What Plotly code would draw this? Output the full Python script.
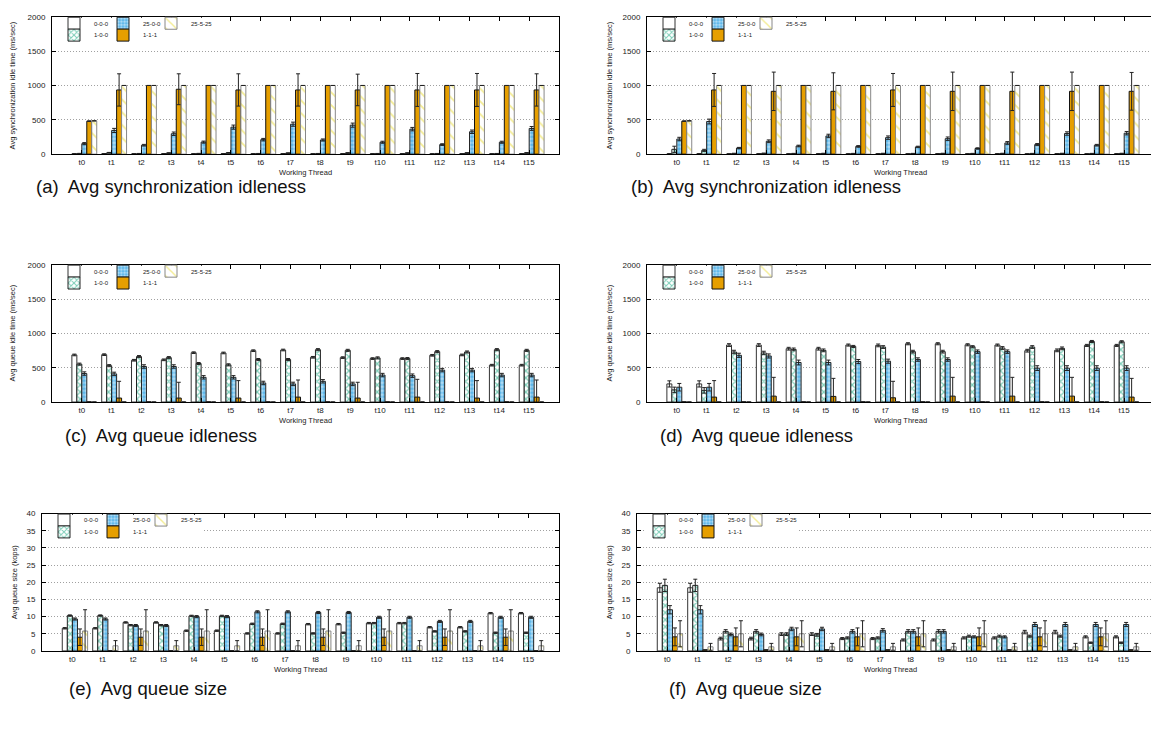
import plotly.graph_objects as go

W, H = 1151, 731

threads = ["t0", "t1", "t2", "t3", "t4", "t5", "t6", "t7",
           "t8", "t9", "t10", "t11", "t12", "t13", "t14", "t15"]
series_names = ["0-0-0", "1-0-0", "25-0-0", "1-1-1", "25-5-25"]

# ---------------- (a) Avg synchronization idle time (ms/sec) ----------------
a_000 = [4, 6, 3, 5, 3, 6, 4, 5, 3, 5, 4, 6, 3, 5, 3, 5]
a_000_err = [3] * 16
a_100 = [6, 20, 5, 15, 6, 18, 5, 14, 5, 16, 5, 15, 5, 16, 5, 17]
a_100_err = [5] * 16
a_2500 = [153, 345, 130, 297, 175, 393, 211, 436, 206, 422, 173, 364, 139, 326, 173, 374]
a_2500_err = [15, 30, 12, 25, 15, 30, 18, 30, 15, 30, 15, 25, 12, 25, 15, 28]
a_111 = [480, 935, 1000, 945, 1000, 935, 1000, 935, 1000, 935, 1000, 935, 1000, 935, 1000, 935]
a_111_err = [4, 235, 0, 225, 0, 235, 0, 235, 0, 230, 0, 240, 0, 240, 0, 235]
a_25525 = [485, 1000, 1000, 1000, 1000, 1000, 1000, 1000, 1000, 1000, 1000, 1000, 1000, 1000, 1000, 1000]
a_25525_err = [0] * 16

# ---------------- (b) Avg synchronization idle time (ms/sec) ----------------
b_000 = [3, 4, 2, 3, 2, 3, 2, 3, 2, 3, 2, 3, 2, 3, 2, 3]
b_000_err = [3] * 16
b_100 = [70, 55, 8, 10, 6, 8, 6, 8, 6, 8, 6, 8, 6, 8, 6, 8]
b_100_err = [45, 15, 5, 5, 5, 5, 5, 5, 5, 5, 5, 5, 5, 5, 5, 5]
b_2500 = [220, 475, 88, 187, 118, 265, 112, 240, 105, 225, 82, 163, 139, 300, 130, 305]
b_2500_err = [25, 35, 10, 20, 12, 25, 12, 25, 10, 25, 10, 20, 15, 25, 12, 25]
b_111 = [480, 935, 1000, 915, 1000, 915, 1000, 935, 1000, 915, 1000, 915, 1000, 915, 1000, 915]
b_111_err = [4, 240, 0, 280, 0, 270, 0, 240, 0, 280, 0, 280, 0, 280, 0, 275]
b_25525 = [485, 1000, 1000, 1000, 1000, 1000, 1000, 1000, 1000, 1000, 1000, 1000, 1000, 1000, 1000, 1000]
b_25525_err = [0] * 16

# ---------------- (c) Avg queue idle time (ms/sec) ----------------
c_000 = [686, 690, 609, 615, 719, 715, 748, 758, 652, 647, 633, 633, 681, 686, 537, 537]
c_000_err = [12] * 16
c_100 = [552, 530, 662, 647, 561, 542, 619, 619, 763, 753, 643, 633, 734, 729, 763, 753]
c_100_err = [15] * 16
c_2500 = [415, 410, 518, 518, 360, 360, 278, 264, 302, 264, 393, 384, 465, 465, 393, 393]
c_2500_err = [25] * 16
c_111 = [0, 58, 0, 58, 0, 58, 0, 72, 0, 58, 0, 72, 0, 58, 0, 72]
c_111_err = [0, 244, 0, 230, 0, 254, 0, 249, 0, 230, 0, 259, 0, 254, 0, 249]
c_25525 = [0] * 16
c_25525_err = [0] * 16

# ---------------- (d) Avg queue idle time (ms/sec) ----------------
d_000 = [264, 264, 830, 830, 777, 777, 830, 825, 849, 849, 834, 830, 748, 753, 825, 825]
d_000_err = [45, 45, 20, 20, 20, 20, 15, 20, 15, 15, 15, 15, 20, 20, 15, 15]
d_100 = [177, 170, 729, 715, 767, 753, 810, 801, 734, 734, 806, 787, 801, 782, 882, 878]
d_100_err = [40, 40, 25, 25, 20, 20, 15, 20, 20, 20, 15, 20, 20, 20, 15, 15]
d_2500 = [216, 216, 681, 671, 576, 576, 590, 595, 619, 619, 734, 734, 494, 494, 494, 494]
d_2500_err = [55, 55, 30, 30, 35, 35, 30, 30, 25, 25, 25, 25, 35, 35, 35, 35]
d_111 = [0, 72, 0, 86, 0, 82, 0, 62, 0, 86, 0, 86, 0, 86, 0, 72]
d_111_err = [0, 240, 0, 274, 0, 263, 0, 240, 0, 274, 0, 274, 0, 274, 0, 273]
d_25525 = [0] * 16
d_25525_err = [0] * 16

# ---------------- (e) Avg queue size (kops) ----------------
e_000 = [6.6, 6.6, 8.3, 8.3, 5.9, 5.9, 5.1, 5.1, 7.8, 7.8, 8.1, 8.1, 6.9, 6.9, 11.0, 11.0]
e_000_err = [0.2] * 16
e_100 = [10.3, 10.3, 7.5, 7.5, 10.2, 10.2, 7.9, 7.9, 5.1, 5.3, 8.1, 8.1, 5.7, 5.7, 5.3, 5.3]
e_100_err = [0.2] * 16
e_2500 = [9.3, 9.3, 7.4, 7.4, 10.0, 10.0, 11.4, 11.4, 11.2, 11.2, 9.8, 9.8, 8.6, 8.6, 9.8, 9.8]
e_2500_err = [0.3] * 16
e_111 = [4.0, 0, 4.0, 0, 4.0, 0, 4.0, 0, 4.0, 0, 4.0, 0, 4.0, 0, 4.0, 0]
e_111_err = [2.4, 0, 2.4, 0, 2.4, 0, 2.4, 0, 2.4, 0, 2.4, 0, 2.4, 0, 2.4, 0]
e_25525 = [5.8, 1.5, 5.8, 1.5, 5.8, 1.5, 5.8, 1.5, 5.8, 1.5, 5.8, 1.5, 5.8, 1.5, 5.8, 1.5]
e_25525_err = [6.2, 1.5, 6.2, 1.5, 6.2, 1.5, 6.2, 1.5, 6.2, 1.5, 6.2, 1.5, 6.2, 1.5, 6.2, 1.5]

# ---------------- (f) Avg queue size (kops) ----------------
f_000 = [18.4, 18.4, 3.6, 3.6, 4.9, 4.9, 3.6, 3.6, 3.2, 3.2, 3.8, 3.8, 5.5, 5.5, 4.1, 4.1]
f_000_err = [1.3, 1.3, 0.4, 0.4, 0.4, 0.4, 0.3, 0.3, 0.3, 0.3, 0.3, 0.3, 0.5, 0.5, 0.3, 0.3]
f_100 = [19.1, 19.1, 5.7, 5.7, 4.9, 4.7, 3.8, 3.8, 5.7, 5.7, 4.3, 4.3, 4.3, 4.3, 2.4, 2.4]
f_100_err = [1.8, 1.8, 0.5, 0.5, 0.4, 0.4, 0.3, 0.3, 0.5, 0.5, 0.3, 0.3, 0.3, 0.3, 0.2, 0.2]
f_2500 = [12.0, 12.0, 4.8, 4.8, 6.4, 6.4, 5.7, 6.0, 5.7, 5.7, 4.1, 4.1, 7.7, 7.7, 7.7, 7.7]
f_2500_err = [1.2, 1.2, 0.4, 0.4, 0.5, 0.5, 0.5, 0.5, 0.5, 0.5, 0.3, 0.3, 0.6, 0.6, 0.6, 0.6]
f_111 = [4.1, 0.3, 4.1, 0.3, 4.1, 0.3, 4.1, 0.3, 4.1, 0.3, 4.1, 0.3, 4.1, 0.3, 4.1, 0.3]
f_111_err = [2.6, 0, 2.6, 0, 2.6, 0, 2.6, 0, 2.6, 0, 2.6, 0, 2.6, 0, 2.6, 0]
f_25525 = [5.0, 1.2, 5.0, 1.2, 5.0, 1.2, 5.0, 1.2, 5.0, 1.2, 5.0, 1.2, 5.0, 1.2, 5.0, 1.2]
f_25525_err = [3.8, 1.0, 3.8, 1.0, 3.8, 1.0, 3.8, 1.0, 3.8, 1.0, 3.8, 1.0, 3.8, 1.0, 3.8, 1.0]

captions = ["(a)\u00a0 Avg synchronization idleness", "(b)\u00a0 Avg synchronization idleness",
            "(c)\u00a0 Avg queue idleness", "(d)\u00a0 Avg queue idleness",
            "(e)\u00a0 Avg queue size", "(f)\u00a0 Avg queue size"]
ytitles = ["Avg synchronization idle time (ms/sec)", "Avg synchronization idle time (ms/sec)",
           "Avg queue idle time (ms/sec)", "Avg queue idle time (ms/sec)",
           "Avg queue size (kops)", "Avg queue size (kops)"]
xtitle = "Working Thread"

panel_data = [
    [(a_000, a_000_err), (a_100, a_100_err), (a_2500, a_2500_err), (a_111, a_111_err), (a_25525, a_25525_err)],
    [(b_000, b_000_err), (b_100, b_100_err), (b_2500, b_2500_err), (b_111, b_111_err), (b_25525, b_25525_err)],
    [(c_000, c_000_err), (c_100, c_100_err), (c_2500, c_2500_err), (c_111, c_111_err), (c_25525, c_25525_err)],
    [(d_000, d_000_err), (d_100, d_100_err), (d_2500, d_2500_err), (d_111, d_111_err), (d_25525, d_25525_err)],
    [(e_000, e_000_err), (e_100, e_100_err), (e_2500, e_2500_err), (e_111, e_111_err), (e_25525, e_25525_err)],
    [(f_000, f_000_err), (f_100, f_100_err), (f_2500, f_2500_err), (f_111, f_111_err), (f_25525, f_25525_err)],
]

# ---------------- layout geometry (pixels) ----------------
# left, right, top, bottom, ymax, dtick, ytitle_x, caption_x, caption_y, right_panel
geo = [
    (52, 559, 13, 152, 2000, 500, 12, 171, 185, False),
    (647, 1151, 13, 152, 2000, 500, 609, 766, 185, True),
    (52, 559, 264, 403, 2000, 500, 12, 161, 437, False),
    (647, 1151, 264, 403, 2000, 500, 609, 756, 437, True),
    (42, 559, 516, 655, 40, 5, 14, 148, 693, False),
    (637, 1151, 516, 655, 40, 5, 609, 745, 693, True),
]
# key layout: (column offset px from plot left, row) for each series
key_pos = [(2, 0), (2, 1), (51, 0), (51, 1), (99, 0)]

styles = [
    dict(color="white", line=dict(color="#333", width=1)),
    dict(color="white", line=dict(color="#222", width=1),
         pattern=dict(shape="x", fgcolor="#009E73", bgcolor="white", size=5, solidity=0.45)),
    dict(color="#56B4E9", line=dict(color="#222", width=1),
         pattern=dict(shape=".", fgcolor="white", bgcolor="#56B4E9", size=4, solidity=0.6)),
    dict(color="#E69F00", line=dict(color="#111", width=1)),
    dict(color="white", line=dict(color="#888", width=1),
         pattern=dict(shape="\\", fgcolor="#E8D92A", bgcolor="white", size=9, solidity=0.2)),
]

def px_x(p):
    return p / W

def px_y(p):
    return 1 - p / H

fig = go.Figure()
FONT = "Liberation Sans, Arial, sans-serif"
layout = dict(width=W, height=H, margin=dict(l=0, r=0, t=0, b=0),
              paper_bgcolor="white", plot_bgcolor="white", showlegend=True,
              barmode="overlay", font=dict(family=FONT, color="#222"),
              annotations=[], shapes=[])

for p, (data, g) in enumerate(zip(panel_data, geo)):
    left, right, top, bottom, ymax, dtick, ytx, capx, capy, is_right = g
    xid = "x" if p == 0 else f"x{p+1}"
    yid = "y" if p == 0 else f"y{p+1}"
    xkey = "xaxis" if p == 0 else f"xaxis{p+1}"
    ykey = "yaxis" if p == 0 else f"yaxis{p+1}"
    unit = (559 - 52) / 17.0 if p < 4 else (559 - 42) / 17.0
    xmax = -1 + (right - left) / unit

    # white key box (gnuplot opaque key)
    layout["shapes"].append(dict(type="rect", xref="paper", yref="paper",
                                 x0=px_x(left + 8), x1=px_x(left + 162),
                                 y0=px_y(top + 25), y1=px_y(top + 1),
                                 fillcolor="white", line=dict(width=0), layer="above"))

    for j, (vals, err) in enumerate(data):
        xs = [i + (j - 1.5) / 6.0 for i in range(len(vals))]
        st = styles[j]
        marker = dict(color=st["color"], line=st["line"])
        if "pattern" in st:
            marker["pattern"] = st["pattern"]
        lg_idx = p * 5 + j + 1
        lg = "legend" if lg_idx == 1 else f"legend{lg_idx}"
        fig.add_trace(go.Bar(
            x=xs, y=vals, width=1 / 6.0, name=series_names[j],
            xaxis=xid, yaxis=yid, marker=marker, legend=lg, showlegend=True,
            error_y=dict(type="data", array=err, symmetric=True, color="#222", thickness=1, width=2),
            hoverinfo="skip",
        ))
        kx, krow = key_pos[j]
        layout[lg] = dict(orientation="h", xanchor="left", yanchor="middle",
                          x=px_x(left + kx), y=px_y(top + 6.5 + 12 * krow),
                          font=dict(size=6, family=FONT, color="#222"),
                          bgcolor="rgba(0,0,0,0)", borderwidth=0, itemwidth=30, visible=True)

    layout[xkey] = dict(domain=[px_x(left), px_x(right)], range=[-1, xmax], anchor=yid,
                        tickvals=list(range(16)), ticktext=threads, ticks="inside", ticklen=4,
                        tickcolor="black", showline=True, linecolor="black", linewidth=1,
                        mirror="ticks", showgrid=False, zeroline=False,
                        tickfont=dict(size=8, family=FONT, color="#222"))
    layout[ykey] = dict(domain=[px_y(bottom), px_y(top)], range=[0, ymax], anchor=xid,
                        dtick=dtick, tick0=0, ticks="inside", ticklen=4, tickcolor="black",
                        showline=True, linecolor="black", linewidth=1,
                        mirror=False if is_right else "ticks",
                        showgrid=True, gridcolor="#a0a0a0", griddash="1px,2px", gridwidth=1,
                        zeroline=False, ticklabelstandoff=4,
                        tickfont=dict(size=8, family=FONT, color="#222"))

    layout["annotations"].append(dict(text=ytitles[p], xref="paper", yref="paper",
                                      x=px_x(ytx), y=px_y((top + bottom) / 2), textangle=-90,
                                      showarrow=False, font=dict(size=7.5, family=FONT, color="#222"),
                                      xanchor="center", yanchor="middle"))
    layout["annotations"].append(dict(text=xtitle, xref="paper", yref="paper",
                                      x=px_x((left + (559 if not is_right else left + 507)) / 2),
                                      y=px_y(bottom + 19), showarrow=False,
                                      font=dict(size=7.5, family=FONT, color="#222"),
                                      xanchor="center", yanchor="middle"))
    layout["annotations"].append(dict(text=captions[p], xref="paper", yref="paper",
                                      x=px_x(capx), y=px_y(capy), showarrow=False,
                                      font=dict(size=18.5, family=FONT, color="#111"),
                                      xanchor="center", yanchor="middle"))

fig.update_layout(**layout)
fig.write_html("out.html")
